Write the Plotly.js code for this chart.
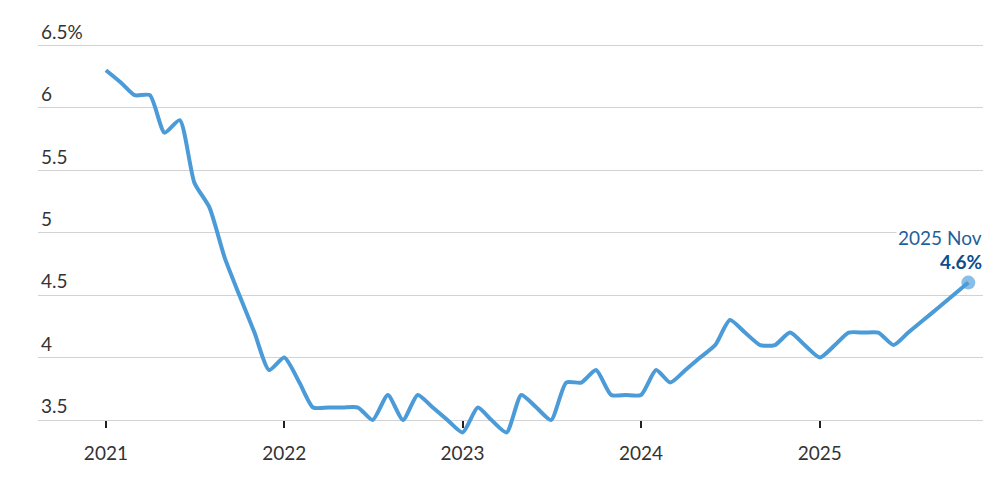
<!DOCTYPE html>
<html>
<head>
<meta charset="utf-8">
<script src="https://cdn.plot.ly/plotly-3.0.1.min.js"></script>
<style>
  html, body { margin: 0; padding: 0; background: #fff; }
  #chart { width: 1002px; height: 483px; }
</style>
</head>
<body>
<div id="chart"></div>
<script>
// US unemployment rate, monthly (Oct 2025 not published)
const months = [
  "2021-01-01","2021-02-01","2021-03-01","2021-04-01","2021-05-01","2021-06-01",
  "2021-07-01","2021-08-01","2021-09-01","2021-10-01","2021-11-01","2021-12-01",
  "2022-01-01","2022-02-01","2022-03-01","2022-04-01","2022-05-01","2022-06-01",
  "2022-07-01","2022-08-01","2022-09-01","2022-10-01","2022-11-01","2022-12-01",
  "2023-01-01","2023-02-01","2023-03-01","2023-04-01","2023-05-01","2023-06-01",
  "2023-07-01","2023-08-01","2023-09-01","2023-10-01","2023-11-01","2023-12-01",
  "2024-01-01","2024-02-01","2024-03-01","2024-04-01","2024-05-01","2024-06-01",
  "2024-07-01","2024-08-01","2024-09-01","2024-10-01","2024-11-01","2024-12-01",
  "2025-01-01","2025-02-01","2025-03-01","2025-04-01","2025-05-01","2025-06-01",
  "2025-07-01","2025-08-01","2025-09-01","2025-11-01"
];
const unemploymentRate = [
  6.3, 6.2, 6.1, 6.1, 5.8, 5.9,
  5.4, 5.2, 4.8, 4.5, 4.2, 3.9,
  4.0, 3.8, 3.6, 3.6, 3.6, 3.6,
  3.5, 3.7, 3.5, 3.7, 3.6, 3.5,
  3.4, 3.6, 3.5, 3.4, 3.7, 3.6,
  3.5, 3.8, 3.8, 3.9, 3.7, 3.7,
  3.7, 3.9, 3.8, 3.9, 4.0, 4.1,
  4.3, 4.2, 4.1, 4.1, 4.2, 4.1,
  4.0, 4.1, 4.2, 4.2, 4.2, 4.1,
  4.2, 4.3, 4.4, 4.6
];
const yTickVals = [3.5, 4, 4.5, 5, 5.5, 6, 6.5];
const yTickText = ["3.5", "4", "4.5", "5", "5.5", "6", "6.5%"];
const xTickVals = ["2021-01-01","2022-01-01","2023-01-01","2024-01-01","2025-01-01"];
const xTickText = ["2021","2022","2023","2024","2025"];
const lastLabel = "2025 Nov";

const lastX = months[months.length - 1];
const lastY = unemploymentRate[unemploymentRate.length - 1];

const yMin = 3.3, yMax = 6.75;
const xAxisPos = (3.5 - yMin) / (yMax - yMin);

const FONT = "Lato, 'Open Sans', sans-serif";
const FS = 19;

const traces = [
  {
    x: months, y: unemploymentRate, type: "scatter", mode: "lines",
    line: { color: "#4a9bd8", width: 4, shape: "spline", smoothing: 0.6 },
    hoverinfo: "skip"
  },
  {
    x: [lastX], y: [lastY], type: "scatter", mode: "markers",
    marker: { color: "rgba(74,155,216,0.65)", size: 14, line: { width: 0 } },
    cliponaxis: false, hoverinfo: "skip"
  }
];

const layout = {
  width: 1002, height: 483,
  margin: { l: 38, r: 19, t: 13.75, b: 38 },
  paper_bgcolor: "#fff", plot_bgcolor: "#fff",
  showlegend: false,
  font: { family: FONT, color: "#333", size: FS },
  xaxis: {
    type: "date",
    range: ["2020-08-15", "2025-12-01"],
    tickvals: xTickVals, ticktext: xTickText,
    showgrid: false, zeroline: false, showline: false,
    ticks: "outside", ticklen: 7, tickwidth: 2, tickcolor: "#222",
    ticklabelstandoff: 9,
    anchor: "free", position: xAxisPos,
    tickfont: { family: FONT, size: FS, color: "#333" }
  },
  yaxis: {
    range: [yMin, yMax],
    tickvals: yTickVals, ticktext: yTickText,
    showgrid: true, gridcolor: "#d3d3d3", gridwidth: 1,
    zeroline: false, showline: false, ticks: "",
    ticklabelposition: "inside top",
    tickfont: { family: FONT, size: FS, color: "#333" }
  },
  annotations: [
    {
      x: lastX, y: lastY, xref: "x", yref: "y",
      text: lastLabel, showarrow: false,
      xanchor: "right", yanchor: "middle",
      xshift: 16, yshift: 45,
      bgcolor: "#fff",
      font: { family: FONT, size: FS, color: "#1f5f9c" }
    },
    {
      x: lastX, y: lastY, xref: "x", yref: "y",
      text: "<b>" + lastY.toFixed(1) + "%</b>", showarrow: false,
      xanchor: "right", yanchor: "middle",
      xshift: 16, yshift: 21,
      font: { family: FONT, size: FS, color: "#0b4f8c" }
    }
  ]
};

Plotly.newPlot("chart", traces, layout, { displayModeBar: false, staticPlot: true });
</script>
</body>
</html>
